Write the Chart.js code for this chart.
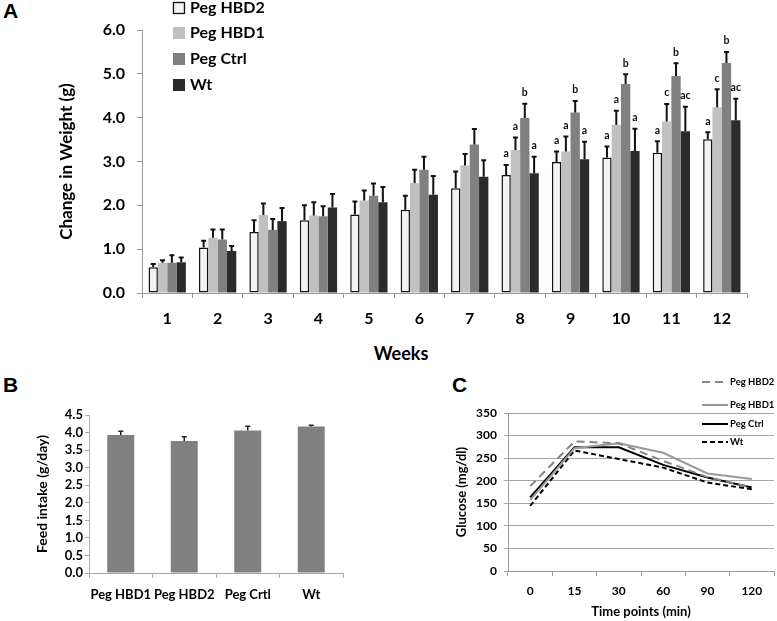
<!DOCTYPE html>
<html>
<head>
<meta charset="utf-8">
<script src="https://cdn.jsdelivr.net/npm/chart.js@4.4.1/dist/chart.umd.min.js"></script>
<style>
  body { margin: 0; background: #fff; }
  #page { position: relative; width: 777px; height: 621px; overflow: hidden; font-family: Lato, "Liberation Sans", sans-serif; }
  .box { position: absolute; }
  .panel-label { position: absolute; font: bold 21px "Liberation Sans", Arial, sans-serif; line-height: 1; }
  .axis-title { position: absolute; font-weight: bold; line-height: 1; transform: translate(-50%, -50%); white-space: nowrap; }
</style>
</head>
<body>
<div id="page">
  <div class="panel-label" style="left:3px;top:0px">A</div>
  <div class="panel-label" style="left:3px;top:374px">B</div>
  <div class="panel-label" style="left:452px;top:374px">C</div>
  <div class="box" style="left:0;top:0;width:777px;height:340px"><canvas id="chartA"></canvas></div>
  <div class="axis-title" style="left:401px;top:353px;font-size:18px">Weeks</div>
  <div class="box" style="left:0;top:380px;width:390px;height:241px"><canvas id="chartB"></canvas></div>
  <div class="box" style="left:390px;top:370px;width:387px;height:251px"><canvas id="chartC"></canvas></div>
</div>
<script>
// Panel A: change in weight by week
const weeks = ["1", "2", "3", "4", "5", "6", "7", "8", "9", "10", "11", "12"];
const weightTicks = [0, 1, 2, 3, 4, 5, 6];

const hbd2Weight = [0.59, 1.04, 1.39, 1.66, 1.79, 1.90, 2.39, 2.69, 2.99, 3.09, 3.20, 3.51];
const hbd2WeightErr = [0.07, 0.15, 0.27, 0.34, 0.30, 0.32, 0.38, 0.23, 0.24, 0.25, 0.26, 0.16];
const hbd2Letters = ["", "", "", "", "", "", "", "a", "a", "a", "a", "a"];

const hbd1Weight = [0.69, 1.26, 1.78, 1.77, 2.11, 2.51, 2.91, 3.26, 3.23, 3.83, 3.91, 4.24];
const hbd1WeightErr = [0.06, 0.19, 0.26, 0.30, 0.23, 0.30, 0.26, 0.29, 0.34, 0.33, 0.40, 0.41];
const hbd1Letters = ["", "", "", "", "", "", "", "a", "a", "a", "c", "c"];

const ctrlWeight = [0.69, 1.22, 1.44, 1.75, 2.22, 2.81, 3.39, 3.99, 4.12, 4.77, 4.95, 5.25];
const ctrlWeightErr = [0.17, 0.23, 0.25, 0.23, 0.28, 0.30, 0.35, 0.33, 0.26, 0.22, 0.29, 0.25];
const ctrlLetters = ["", "", "", "", "", "", "", "b", "b", "b", "b", "b"];

const wtWeight = [0.70, 0.96, 1.64, 1.95, 2.07, 2.24, 2.65, 2.73, 3.05, 3.24, 3.69, 3.94];
const wtWeightErr = [0.11, 0.11, 0.30, 0.31, 0.35, 0.43, 0.38, 0.38, 0.40, 0.51, 0.56, 0.49];
const wtLetters = ["", "", "", "", "", "", "", "a", "a", "a", "ac", "ac"];

// Panel B: feed intake
const feedGroups = ["Peg HBD1", "Peg HBD2", "Peg Crtl", "Wt"];
const feedIntake = [3.93, 3.76, 4.06, 4.17];
const feedErr = [0.11, 0.12, 0.12, 0.04];

// Panel C: glucose tolerance
const timePoints = ["0", "15", "30", "60", "90", "120"];
const hbd2Glucose = [188, 287, 283, 244, 208, 185];
const hbd1Glucose = [157, 272, 283, 262, 216, 204];
const ctrlGlucose = [163, 274, 274, 235, 207, 185];
const wtGlucose = [144, 267, 248, 229, 196, 181];

const FONT = 'Lato, "Liberation Sans", sans-serif';
Chart.defaults.font.family = FONT;
Chart.defaults.font.weight = "bold";
Chart.defaults.color = "#000";

const errorBarsPlugin = {
  id: "errorBars",
  afterDatasetsDraw(chart, args, opts) {
    const { ctx } = chart;
    const yScale = chart.scales.y;
    ctx.save();
    ctx.textAlign = "center";
    ctx.textBaseline = "middle";
    ctx.font = opts.font || `bold 10px ${FONT}`;
    chart.data.datasets.forEach((ds, i) => {
      if (!ds.errors) {
        return;
      }
      const meta = chart.getDatasetMeta(i);
      meta.data.forEach((bar, j) => {
        const top = yScale.getPixelForValue(ds.data[j] + ds.errors[j]);
        ctx.strokeStyle = opts.color || "#111";
        ctx.lineWidth = opts.width || 2;
        ctx.beginPath();
        ctx.moveTo(bar.x, bar.y);
        ctx.lineTo(bar.x, top);
        ctx.moveTo(bar.x - opts.cap, top);
        ctx.lineTo(bar.x + opts.cap, top);
        ctx.stroke();
        const letter = ds.letters ? ds.letters[j] : "";
        if (letter) {
          ctx.fillStyle = "#111";
          ctx.fillText(letter, bar.x, top - opts.letterGap);
        }
      });
    });
    ctx.restore();
  },
};

const sideLegendPlugin = {
  id: "sideLegend",
  afterDraw(chart, args, opts) {
    if (!opts || !opts.display) {
      return;
    }
    const { ctx } = chart;
    ctx.save();
    ctx.font = opts.font;
    ctx.textAlign = "left";
    ctx.textBaseline = "middle";
    chart.data.datasets.forEach((ds, i) => {
      const y = opts.rows[i];
      if (opts.kind === "box") {
        ctx.fillStyle = ds.backgroundColor;
        ctx.fillRect(opts.x, y - opts.size / 2, opts.size, opts.size);
        if (ds.borderWidth) {
          ctx.strokeStyle = ds.borderColor;
          ctx.lineWidth = 1.3;
          ctx.strokeRect(opts.x + 0.5, y - opts.size / 2 + 0.5, opts.size - 1, opts.size - 1);
        }
      } else {
        ctx.strokeStyle = ds.borderColor;
        ctx.lineWidth = ds.borderWidth;
        ctx.setLineDash(ds.borderDash || []);
        ctx.beginPath();
        ctx.moveTo(opts.x, y);
        ctx.lineTo(opts.x + opts.size, y);
        ctx.stroke();
        ctx.setLineDash([]);
      }
      ctx.fillStyle = "#000";
      ctx.fillText(ds.label, opts.x + opts.size + opts.gap, y);
    });
    ctx.restore();
  },
};

function weightBar(label, data, errors, letters, fill, border) {
  return {
    label,
    data,
    errors,
    letters,
    backgroundColor: fill,
    borderColor: border || fill,
    borderWidth: border ? 1.5 : 0,
    borderSkipped: false,
    categoryPercentage: 0.74,
    barPercentage: 1.0,
  };
}

new Chart(document.getElementById("chartA"), {
  type: "bar",
  plugins: [errorBarsPlugin, sideLegendPlugin],
  data: {
    labels: weeks,
    datasets: [
      weightBar("Peg HBD2", hbd2Weight, hbd2WeightErr, hbd2Letters, "#f2f2f2", "#111"),
      weightBar("Peg HBD1", hbd1Weight, hbd1WeightErr, hbd1Letters, "#c0c0c0"),
      weightBar("Peg Ctrl", ctrlWeight, ctrlWeightErr, ctrlLetters, "#808080"),
      weightBar("Wt", wtWeight, wtWeightErr, wtLetters, "#2b2b2b"),
    ],
  },
  options: {
    responsive: true,
    maintainAspectRatio: false,
    animation: false,
    layout: { padding: { top: 30, right: 30, left: 0, bottom: 0 } },
    plugins: {
      legend: { display: false },
      tooltip: { enabled: false },
      errorBars: { cap: 2.5, width: 2, letterGap: 11, color: "#111", font: `bold 10.5px ${FONT}` },
      sideLegend: { display: true, kind: "box", x: 173, size: 12, gap: 5, rows: [8, 33, 59, 85], font: `bold 16px ${FONT}` },
    },
    scales: {
      x: {
        afterFit(scale) { scale.height = 47; },
        grid: { drawOnChartArea: false, tickLength: 5, color: "#999" },
        border: { color: "#999" },
        ticks: { font: { size: 16, weight: "bold" }, padding: 11, maxRotation: 0, autoSkip: false },
      },
      y: {
        min: 0,
        max: 6,
        afterFit(scale) { scale.width = 142; },
        afterBuildTicks(scale) { scale.ticks = weightTicks.map((v) => ({ value: v })); },
        grid: { drawOnChartArea: false, tickLength: 5, color: "#999" },
        border: { color: "#999" },
        ticks: { font: { size: 16, weight: "bold" }, padding: 12, autoSkip: false, callback: (v) => Number(v).toFixed(1) },
        title: { display: true, text: "Change in Weight (g)", font: { size: 17, weight: "bold" }, padding: { top: 56, bottom: 0 } },
      },
    },
  },
});

new Chart(document.getElementById("chartB"), {
  type: "bar",
  plugins: [errorBarsPlugin],
  data: {
    labels: feedGroups,
    datasets: [{
      label: "Feed intake",
      data: feedIntake,
      errors: feedErr,
      backgroundColor: "#808080",
      borderWidth: 0,
      categoryPercentage: 1.0,
      barPercentage: 0.425,
    }],
  },
  options: {
    responsive: true,
    maintainAspectRatio: false,
    animation: false,
    layout: { padding: { top: 35, right: 47, left: 0, bottom: 0 } },
    plugins: {
      legend: { display: false },
      tooltip: { enabled: false },
      errorBars: { cap: 2.5, width: 1.5, letterGap: 0, color: "#222" },
    },
    scales: {
      x: {
        afterFit(scale) { scale.height = 48; },
        grid: { drawOnChartArea: false, tickLength: 5, color: "#aaa" },
        border: { color: "#aaa" },
        ticks: { font: { size: 13, weight: "bold" }, padding: 9, minRotation: 0, maxRotation: 0, autoSkip: false },
      },
      y: {
        min: 0,
        max: 4.5,
        afterFit(scale) { scale.width = 89; },
        grid: { drawOnChartArea: false, tickLength: 4, color: "#aaa" },
        border: { color: "#aaa" },
        ticks: { stepSize: 0.5, autoSkip: false, font: { size: 13, weight: "bold" }, padding: 2, callback: (v) => Number(v).toFixed(1) },
        title: { display: true, text: "Feed intake (g/day)", font: { size: 14, weight: "bold" }, padding: { top: 34, bottom: 0 } },
      },
    },
  },
});

function glucoseLine(label, data, color, dash) {
  return {
    label,
    data,
    borderColor: color,
    backgroundColor: color,
    borderWidth: 2,
    borderDash: dash,
    pointRadius: 0,
    tension: 0,
    fill: false,
  };
}

new Chart(document.getElementById("chartC"), {
  type: "line",
  plugins: [sideLegendPlugin],
  data: {
    labels: timePoints,
    datasets: [
      glucoseLine("Peg HBD2", hbd2Glucose, "#858585", [8, 5]),
      glucoseLine("Peg HBD1", hbd1Glucose, "#9a9a9a", []),
      glucoseLine("Peg Ctrl", ctrlGlucose, "#000", []),
      glucoseLine("Wt", wtGlucose, "#000", [5, 3]),
    ],
  },
  options: {
    responsive: true,
    maintainAspectRatio: false,
    animation: false,
    layout: { padding: { top: 43, right: 3, left: 0, bottom: 0 } },
    plugins: {
      legend: { display: false },
      tooltip: { enabled: false },
      sideLegend: { display: true, kind: "line", x: 312, size: 26, gap: 2, rows: [12, 35, 54, 72], font: `bold 9.5px ${FONT}` },
    },
    scales: {
      x: {
        offset: true,
        afterFit(scale) { scale.height = 50; },
        grid: { offset: true, drawOnChartArea: false, tickLength: 5, color: "#999" },
        border: { color: "#999" },
        ticks: { font: { size: 12, weight: "bold" }, padding: 8, maxRotation: 0, autoSkip: false },
        title: { display: true, text: "Time points (min)", font: { size: 13, weight: "bold" }, padding: { top: 0, bottom: 1.5 } },
      },
      y: {
        min: 0,
        max: 350,
        afterFit(scale) { scale.width = 118; },
        grid: { color: "#a6a6a6", tickLength: 4 },
        border: { color: "#999" },
        ticks: { stepSize: 50, autoSkip: false, font: { size: 12, weight: "bold" }, padding: 7 },
        title: { display: true, text: "Glucose (mg/dl)", font: { size: 13, weight: "bold" }, padding: { top: 64, bottom: 0 } },
      },
    },
  },
});
</script>
</body>
</html>
